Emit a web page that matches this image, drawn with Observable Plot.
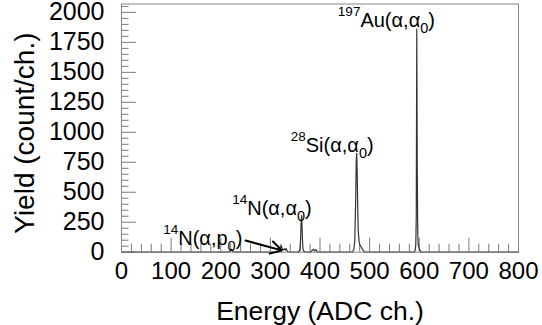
<!DOCTYPE html>
<html><head><meta charset="utf-8">
<script src="https://cdn.jsdelivr.net/npm/d3@7"></script>
<script src="https://cdn.jsdelivr.net/npm/@observablehq/plot@0.6"></script>
<style>body{margin:0;background:#fff}</style>
</head><body><div id="chart"></div>
<script>
// Spectrum (channel, counts)
const channels = [0,216,219,222,225,228,316,319,322,324,326,328,330,332,334,337,357,360,361,362,363,364,365,366,368,370,381,384,387,389,392,395,465,468,470,472,473,474,475,476,477,479,481,483,485,487,490,590,592,593,594,595,596,597,598,600,602,604,800];
const counts   = [0,0,10,25,5,0,0,15,55,25,20,30,18,30,8,0,0,30,120,260,306,190,70,20,5,0,0,15,25,10,22,0,0,20,90,450,760,825,650,380,180,80,55,45,30,15,0,0,20,60,300,1860,700,150,60,30,10,0,0];

const xTickLabels = [0,100,200,300,400,500,600,700,800];
const yTickLabels = [0,250,500,750,1000,1250,1500,1750,2000];

// Peak annotations
const annoX    = [84, 223, 341, 436];
const annoY    = [64, 314, 839, 1881];
const annoSup  = ["14", "14", "28", "197"];
const annoMain = ["N(α,p", "N(α,α", "Si(α,α", "Au(α,α"];
const annoSub  = ["0", "0", "0", "0"];

// Arrow pointing at 14N(α,p0)
const arrowX1 = [250], arrowY1 = [97], arrowX2 = [323], arrowY2 = [15];

const spectrum = channels.map((c, i) => ({c, n: counts[i]}));
const annos = annoX.map((x, i) => ({x, y: annoY[i], main: annoMain[i]}));
const arrows = arrowX1.map((x1, i) => ({x1, y1: arrowY1[i], x2: arrowX2[i], y2: arrowY2[i]}));
const minorX = d3.range(0, 801, 20).filter(d => d % 100 !== 0);
const minorY = d3.range(0, 2051, 50).filter(d => d % 250 !== 0);

const W = 542, H = 325, mL = 121, mR = 24, mT = 3.5, mB = 73.3;
const innerW = W - mL - mR, innerH = H - mT - mB;
const font = "'Liberation Sans', Arial, Helvetica, sans-serif";
const gray = "#7a7a7a";

const chart = Plot.plot({
  width: W, height: H,
  marginLeft: mL, marginRight: mR, marginTop: mT, marginBottom: mB,
  style: {fontFamily: font, background: "white", color: "black"},
  x: {domain: [0, 800]},
  y: {domain: [0, 2070]},
  marks: [
    Plot.ruleX(minorX, {stroke: gray, insetTop: innerH - 8}),
    Plot.ruleX(xTickLabels, {stroke: gray, insetTop: innerH - 14}),
    Plot.ruleY(minorY, {stroke: gray, insetRight: innerW - 7.5}),
    Plot.ruleY(yTickLabels, {stroke: gray, insetRight: innerW - 15}),
    Plot.line(spectrum, {x: "c", y: "n", stroke: "#333", strokeWidth: 1.2}),
    Plot.frame({stroke: "#888"}),
    Plot.axisX({ticks: xTickLabels, tickSize: 0, tickPadding: 10, fontSize: 24, tickFormat: d => String(d), label: null}),
    Plot.axisY({ticks: yTickLabels, tickSize: 0, tickPadding: 17, fontSize: 25, tickFormat: d => String(d), label: null}),
    Plot.text(["Energy (ADC ch.)"], {frameAnchor: "bottom", textAnchor: "middle", lineAnchor: "bottom", dy: 68, fontSize: 26.5, fill: "black"}),
    Plot.text(["Yield (count/ch.)"], {frameAnchor: "left", textAnchor: "middle", lineAnchor: "bottom", rotate: -90, dx: -88, dy: 5, fontSize: 28, fill: "black"}),
    Plot.arrow(arrows, {x1: "x1", y1: "y1", x2: "x2", y2: "y2", stroke: "black", strokeWidth: 2, headLength: 11}),
    Plot.text(annos, {x: "x", y: "y", text: "main", textAnchor: "start", lineAnchor: "bottom", fontSize: 20, fill: "black"})
  ]
});

d3.select(chart).selectAll("text").each(function() {
  const i = annoMain.indexOf(this.textContent);
  if (i < 0) return;
  const t = d3.select(this);
  t.text(null);
  t.append("tspan").attr("font-size", 13.5).attr("dy", -11).text(annoSup[i]);
  t.append("tspan").attr("dy", 11).text(annoMain[i]);
  t.append("tspan").attr("font-size", 14.5).attr("dy", 6).text(annoSub[i]);
  t.append("tspan").attr("dy", -6).text(")");
});

document.getElementById("chart").append(chart);
</script>
</body></html>
